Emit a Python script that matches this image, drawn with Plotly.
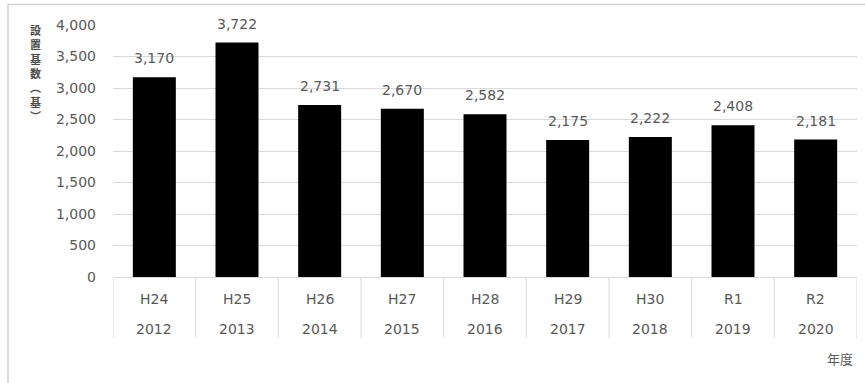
import plotly.graph_objects as go

# Installed units per fiscal year
era_labels = ["H24", "H25", "H26", "H27", "H28", "H29", "H30", "R1", "R2"]
year_labels = ["2012", "2013", "2014", "2015", "2016", "2017", "2018", "2019", "2020"]
installed = [3170, 3722, 2731, 2670, 2582, 2175, 2222, 2408, 2181]
y_ticks = [0, 500, 1000, 1500, 2000, 2500, 3000, 3500, 4000]

FONT = "DejaVu Sans, Noto Sans CJK JP, sans-serif"
CJK_FONT = "Noto Sans CJK JP, sans-serif"
TEXT = "#595959"
GRID = "#d9d9d9"

fig = go.Figure(
    go.Bar(
        x=era_labels,
        y=installed,
        marker=dict(color="#000000", line=dict(width=0)),
        hoverinfo="skip",
    )
)

annotations = []
# value labels above each bar
for i, v in enumerate(installed):
    annotations.append(dict(
        x=i, y=v, xref="x", yref="y", text=f"{v:,}", showarrow=False,
        yanchor="middle", yshift=19, font=dict(family=FONT, size=14, color=TEXT),
    ))
# two-row category labels under the axis
for i, (era, yr) in enumerate(zip(era_labels, year_labels)):
    annotations.append(dict(
        x=i, y=-0.087, xref="x", yref="paper", text=era, showarrow=False,
        yanchor="middle", font=dict(family=FONT, size=14, color=TEXT),
    ))
    annotations.append(dict(
        x=i, y=-0.206, xref="x", yref="paper", text=yr, showarrow=False,
        yanchor="middle", font=dict(family=FONT, size=14, color=TEXT),
    ))
# axis titles
annotations.append(dict(
    x=0.997, y=-0.322, xref="paper", yref="paper", text="年度", showarrow=False,
    xanchor="right", yanchor="middle", font=dict(family=CJK_FONT, size=13, color=TEXT),
))
annotations.append(dict(
    x=(35 - 113) / 744, y=1 + (25 - 20) / 252, xref="paper", yref="paper",
    showarrow=False, text="<b>設<br>置<br>基<br>数<br>︵<br>基<br>︶</b>",
    xanchor="center", yanchor="top", font=dict(family=CJK_FONT, size=11, color="#4a4a4a"),
))

# vertical dividers between category cells
shapes = []
for k in range(len(era_labels) + 1):
    shapes.append(dict(
        type="line", xref="x", yref="paper", x0=k - 0.5, x1=k - 0.5,
        y0=0, y1=-0.242, line=dict(color=GRID, width=1),
    ))
# chart frame (top and left edges)
frame_top = 1 + (25 - 4.5) / 252
frame_left = (8 - 113) / 744
shapes.append(dict(type="line", xref="paper", yref="paper",
                   x0=frame_left, x1=1.2, y0=frame_top, y1=frame_top,
                   line=dict(color="#d0d0d0", width=1.5)))
shapes.append(dict(type="line", xref="paper", yref="paper",
                   x0=frame_left, x1=frame_left, y0=frame_top, y1=-0.5,
                   line=dict(color="#d0d0d0", width=1.5)))

fig.update_layout(
    width=865, height=383,
    margin=dict(l=113, r=8, t=25, b=106),
    paper_bgcolor="white", plot_bgcolor="white",
    bargap=0.48,
    showlegend=False,
    annotations=annotations,
    shapes=shapes,
    font=dict(family=FONT, color=TEXT),
)
fig.update_xaxes(
    type="category", range=[-0.5, len(era_labels) - 0.5],
    showticklabels=False, showgrid=False, zeroline=False,
    showline=False, ticks="",
)
fig.update_yaxes(
    range=[0, 4000], tickvals=y_ticks, tickformat=",d",
    showgrid=True, gridcolor=GRID, gridwidth=1,
    zeroline=True, zerolinecolor=GRID, zerolinewidth=1,
    showline=False, ticks="", ticklabelstandoff=16,
    tickfont=dict(family=FONT, size=14, color=TEXT),
)

fig.write_html("out.html")
